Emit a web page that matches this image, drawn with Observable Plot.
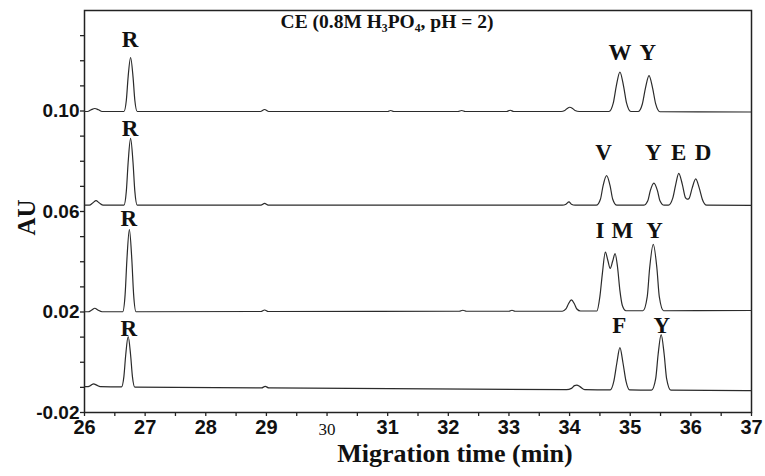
<!DOCTYPE html>
<html>
<head>
<meta charset="utf-8">
<script src="https://cdn.jsdelivr.net/npm/d3@7"></script>
<script src="https://cdn.jsdelivr.net/npm/@observablehq/plot@0.6"></script>
<style>
  html, body { margin: 0; padding: 0; background: #fff; }
  #chart svg { display: block; }
</style>
</head>
<body>
<div id="chart"></div>
<script>
// ---- Data (time in min, absorbance in AU) ----
const traceNames = ["WY", "VYED", "IMY", "FY"];

const trace1 = [
  [26.00,0.0998],[26.05,0.0998],[26.11,0.1005],[26.17,0.1010],[26.23,0.1005],[26.29,0.0998],
  [26.65,0.0998],[26.69,0.1043],[26.72,0.1137],[26.76,0.1213],[26.80,0.1137],[26.83,0.1043],[26.87,0.0998],
  [28.90,0.0998],[28.97,0.1006],[29.04,0.0998],
  [31.00,0.0998],[31.05,0.1002],[31.10,0.0998],
  [32.16,0.0998],[32.22,0.1002],[32.28,0.0998],
  [32.96,0.0998],[33.02,0.1003],[33.08,0.0998],
  [33.86,0.0998],[33.92,0.1002],[33.96,0.1010],[34.00,0.1015],[34.05,0.1010],[34.09,0.1002],[34.16,0.0998],
  [34.65,0.0998],[34.72,0.1031],[34.77,0.1099],[34.83,0.1155],[34.89,0.1099],[34.94,0.1031],[35.01,0.0998],
  [35.13,0.0998],[35.20,0.1028],[35.25,0.1090],[35.31,0.1141],[35.37,0.1090],[35.42,0.1028],[35.49,0.0997],
  [37.00,0.0996]
];

const trace2 = [
  [26.00,0.0625],[26.08,0.0625],[26.14,0.0635],[26.19,0.0643],[26.24,0.0635],[26.31,0.0625],
  [26.65,0.0625],[26.69,0.0681],[26.72,0.0796],[26.76,0.0891],[26.80,0.0796],[26.83,0.0681],[26.87,0.0625],
  [28.91,0.0625],[28.97,0.0632],[29.03,0.0625],
  [33.88,0.0625],[33.94,0.0629],[33.99,0.0638],[34.03,0.0629],[34.09,0.0625],
  [34.44,0.0625],[34.51,0.0650],[34.55,0.0700],[34.61,0.0743],[34.67,0.0700],[34.71,0.0650],[34.78,0.0625],
  [35.22,0.0625],[35.29,0.0643],[35.33,0.0682],[35.39,0.0713],[35.45,0.0682],[35.49,0.0643],[35.56,0.0625],
  [35.63,0.0625],[35.70,0.0652],[35.75,0.0707],[35.80,0.0752],[35.86,0.0707],[35.91,0.0655],[35.94,0.0649],
  [35.97,0.0652],[36.02,0.0692],[36.08,0.0730],[36.14,0.0692],[36.19,0.0648],[36.26,0.0625],
  [37.00,0.0624]
];

const trace3 = [
  [26.00,0.0201],[26.06,0.0201],[26.12,0.0208],[26.17,0.0215],[26.22,0.0208],[26.29,0.0201],
  [26.63,0.0201],[26.67,0.0270],[26.70,0.0411],[26.74,0.0528],[26.78,0.0411],[26.81,0.0270],[26.85,0.0201],
  [28.91,0.0202],[28.97,0.0208],[29.03,0.0202],
  [32.18,0.0203],[32.24,0.0207],[32.30,0.0203],
  [33.00,0.0203],[33.05,0.0207],[33.10,0.0203],
  [33.88,0.0203],[33.94,0.0212],[33.98,0.0232],[34.03,0.0248],[34.08,0.0232],[34.12,0.0212],[34.18,0.0204],
  [34.45,0.0204],[34.50,0.0262],[34.54,0.0352],[34.59,0.0438],[34.63,0.0406],[34.67,0.0374],[34.71,0.0402],
  [34.75,0.0432],[34.79,0.0380],[34.83,0.0285],[34.87,0.0226],[34.93,0.0205],
  [35.21,0.0205],[35.28,0.0260],[35.32,0.0374],[35.38,0.0469],[35.44,0.0374],[35.48,0.0260],[35.55,0.0205],
  [37.00,0.0206]
];

const trace4 = [
  [26.00,-0.0097],[26.06,-0.0097],[26.11,-0.0091],[26.15,-0.0086],[26.20,-0.0091],[26.26,-0.0097],
  [26.61,-0.0098],[26.65,-0.0056],[26.68,0.0030],[26.72,0.0102],[26.76,0.0030],[26.79,-0.0056],[26.83,-0.0099],
  [28.92,-0.0102],[28.98,-0.0096],[29.04,-0.0102],
  [33.95,-0.0109],[34.03,-0.0104],[34.08,-0.0093],[34.12,-0.0091],[34.17,-0.0097],[34.25,-0.0109],
  [34.67,-0.0110],[34.73,-0.0075],[34.78,-0.0002],[34.83,0.0058],[34.88,-0.0002],[34.93,-0.0075],[34.99,-0.0110],
  [35.35,-0.0111],[35.42,-0.0065],[35.46,0.0031],[35.51,0.0110],[35.56,0.0031],[35.60,-0.0065],[35.67,-0.0111],
  [37.00,-0.0113]
];

// Peak labels
const peakText = ["R","W","Y", "R","V","Y","E","D", "R","I","M","Y", "R","F","Y"];
const peakTime = [26.75,34.83,35.29, 26.75,34.56,35.38,35.80,36.20, 26.73,34.50,34.87,35.40, 26.73,34.82,35.52];
const peakAU   = [0.1283,0.1231,0.1231, 0.0928,0.0836,0.0836,0.0836,0.0836, 0.0570,0.0524,0.0524,0.0524, 0.0132,0.0146,0.0146];

// Axis ticks
const xMajorTicks = [26,27,28,29,30,31,32,33,34,35,36,37];
const xMinorTicks = [26.5,27.5,28.5,29.5,30.5,31.5,32.5,33.5,34.5,35.5,36.5];
const yMajorTicks = [0.10,0.06,0.02,-0.02];
const yMinorTicks = [-0.01,0.00,0.01,0.03,0.04,0.05,0.07,0.08,0.09,0.11,0.12,0.13];

const titleText = "CE (0.8M H\u2083PO\u2084, pH = 2)";
const xLabel = "Migration time (min)";
const yLabel = "AU";

// ---- Build table ----
const traces = [trace1, trace2, trace3, trace4];
const rows = traces.flatMap((tr, i) => tr.map(([t, v]) => ({trace: traceNames[i], time: t, au: v})));
const labels = peakText.map((s, i) => ({text: s, time: peakTime[i], au: peakAU[i]}));

const serif = "'Liberation Serif', 'Times New Roman', serif";
const sans = "'Liberation Sans', Arial, sans-serif";
const ink = "#222";

const chart = Plot.plot({
  width: 765,
  height: 476,
  marginLeft: 84,
  marginRight: 14,
  marginTop: 10,
  marginBottom: 64,
  x: {domain: [26, 37]},
  y: {domain: [-0.02, 0.14]},
  style: {background: "#fff", color: ink, fontFamily: sans},
  marks: [
    Plot.axisX({ticks: xMajorTicks, tickSize: 4, strokeWidth: 1.3, tickFormat: () => "", label: null}),
    Plot.axisX({ticks: xMinorTicks, tickSize: 4, strokeWidth: 1.3, tickFormat: () => "", label: null}),
    Plot.axisY({ticks: yMajorTicks, tickSize: 4, strokeWidth: 1.3, tickFormat: () => "", label: null}),
    Plot.axisY({ticks: yMinorTicks, tickSize: 4, strokeWidth: 1.3, tickFormat: () => "", label: null}),
    // x tick labels (30 is set in a plain serif face, as in the reference)
    Plot.text(xMajorTicks.filter(d => d !== 30), {x: d => d, frameAnchor: "bottom", lineAnchor: "middle",
      dy: 15, text: d => String(d), fontFamily: sans, fontWeight: "bold", fontSize: 20, fill: "#111"}),
    Plot.text(xMajorTicks.filter(d => d === 30), {x: d => d, frameAnchor: "bottom", lineAnchor: "middle",
      dy: 17, text: d => String(d), fontFamily: serif, fontSize: 17, fill: "#111"}),
    // y tick labels
    Plot.text(yMajorTicks, {y: d => d, frameAnchor: "left", textAnchor: "end", lineAnchor: "middle",
      dx: -5, text: d => d.toFixed(2), fontFamily: sans, fontWeight: "bold", fontSize: 19, fill: "#111"}),
    Plot.frame({stroke: ink, strokeWidth: 1.5}),
    Plot.line(rows, {x: "time", y: "au", z: "trace", curve: "monotone-x", stroke: "#2b2b2b", strokeWidth: 1.2}),
    Plot.text(labels, {x: "time", y: "au", text: "text", fontFamily: serif, fontWeight: "bold", fontSize: 23, fill: "#111"}),
    Plot.text([titleText], {frameAnchor: "top", lineAnchor: "middle", dx: -31, dy: 11, text: d => d,
      fontFamily: serif, fontWeight: "bold", fontSize: 19.5, fill: "#111"}),
    Plot.text([xLabel], {frameAnchor: "bottom", lineAnchor: "middle", dx: 37, dy: 41, text: d => d,
      fontFamily: serif, fontWeight: "bold", fontSize: 26, fill: "#111"}),
    Plot.text([yLabel], {frameAnchor: "left", textAnchor: "middle", lineAnchor: "middle", dx: -58, dy: 6,
      rotate: -90, text: d => d, fontFamily: serif, fontWeight: "bold", fontSize: 25, fill: "#111"})
  ]
});
document.getElementById("chart").appendChild(chart);
</script>
</body>
</html>
